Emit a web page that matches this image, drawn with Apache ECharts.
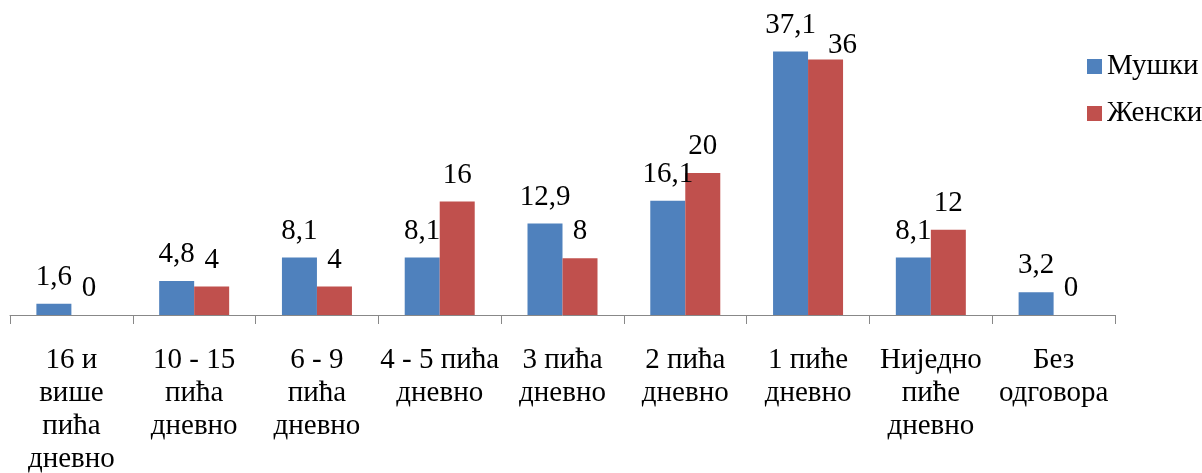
<!DOCTYPE html>
<html><head><meta charset="utf-8">
<script src="https://cdn.jsdelivr.net/npm/echarts@6/dist/echarts.min.js"></script>
<style>html,body{margin:0;padding:0;background:#fff}#c{width:1202px;height:473px}</style>
</head><body><div id="c"></div>
<script>
const categories = ['16 и\nвише\nпића\nдневно','10 - 15\nпића\nдневно','6 - 9\nпића\nдневно','4 - 5 пића\nдневно','3 пића\nдневно','2 пића\nдневно','1 пиће\nдневно','Ниједно\nпиће\nдневно','Без\nодговора'];
const male = [1.6, 4.8, 8.1, 8.1, 12.9, 16.1, 37.1, 8.1, 3.2];
const female = [0, 4, 4, 16, 8, 20, 36, 12, 0];
const seriesNames = ['Мушки', 'Женски'];
const font = "'Liberation Serif', 'Times New Roman', serif";
const fs = 29;
const fmt = p => String(p.value).replace('.', ',');
// the label of the tallest female bar is nudged in the original to avoid its neighbour
const femaleData = female.map((v, i) => i === 6 ? {value: v, label: {distance: 0, offset: [17, 0]}} : v);
const chart = echarts.init(document.getElementById('c'));
chart.setOption({
  animation: false,
  textStyle: {fontFamily: font},
  grid: {left: 10, right: 87, top: 31, bottom: 158, outerBoundsMode: 'none', containLabel: false},
  legend: {
    orient: 'vertical', left: 1082, top: 47, itemWidth: 15, itemHeight: 15, itemGap: 18,
    icon: 'rect',
    textStyle: {fontFamily: font, fontSize: fs, lineHeight: 29, color: '#000'},
    data: seriesNames
  },
  xAxis: {
    type: 'category', data: categories,
    axisLine: {lineStyle: {color: '#888', width: 1}},
    axisTick: {show: true, length: 9, lineStyle: {color: '#888'}},
    axisLabel: {interval: 0, margin: 29, fontFamily: font, fontSize: fs, lineHeight: 33, color: '#000'}
  },
  yAxis: {type: 'value', min: 0, max: 40, show: false, splitLine: {show: false}},
  series: [
    {name: seriesNames[0], type: 'bar', data: male, barWidth: 35, barGap: '0%',
     itemStyle: {color: '#4F81BD'},
     label: {show: true, position: 'top', distance: 12, formatter: fmt, fontFamily: font, fontSize: fs, color: '#000'}},
    {name: seriesNames[1], type: 'bar', data: femaleData, barWidth: 35,
     itemStyle: {color: '#C0504D'},
     label: {show: true, position: 'top', distance: 12, formatter: fmt, fontFamily: font, fontSize: fs, color: '#000'}}
  ]
});
</script></body></html>
